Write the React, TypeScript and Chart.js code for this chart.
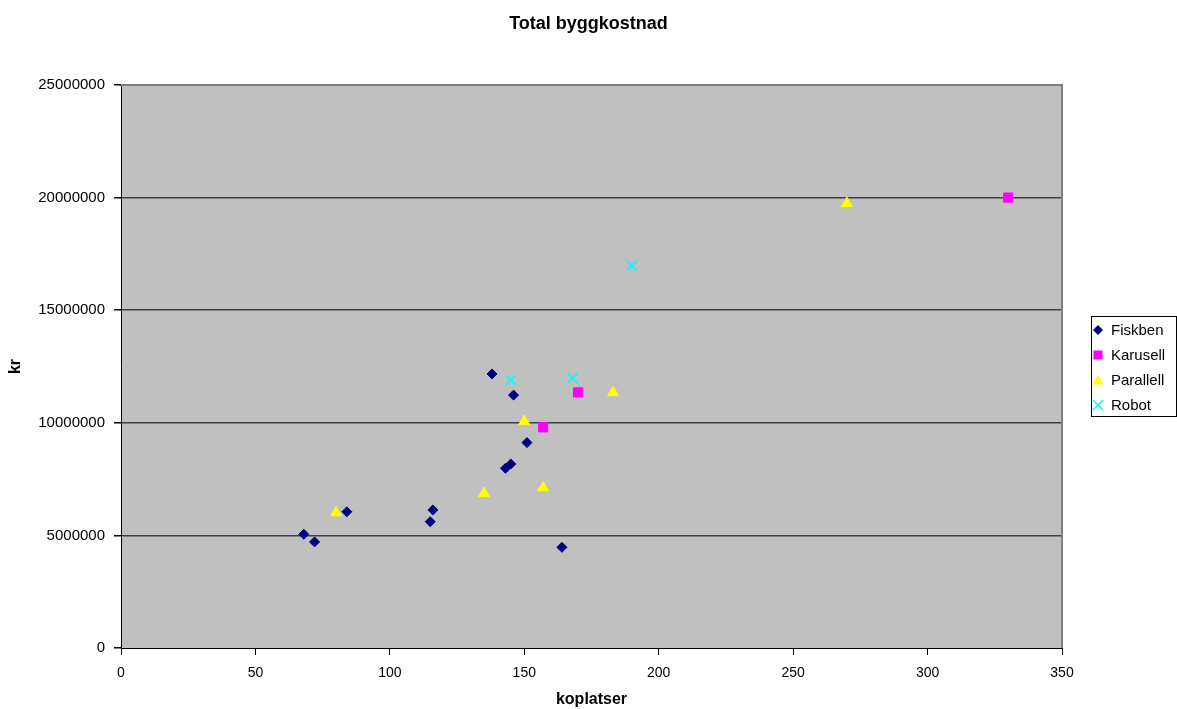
import React, { useEffect, useRef } from "react";
import { Chart, registerables } from "chart.js";

Chart.register(...registerables);

const seriesNames = ["Fiskben", "Karusell", "Parallell", "Robot"];

const fiskbenX = [138, 146, 151, 143, 145, 84, 116, 115, 68, 72, 164];
const fiskbenY = [12170000, 11230000, 9120000, 7980000, 8170000, 6050000, 6130000, 5610000, 5050000, 4710000, 4470000];

const karusellX = [330, 170, 157];
const karusellY = [20000000, 11350000, 9800000];

const parallellX = [270, 183, 150, 135, 157, 80];
const parallellY = [19750000, 11350000, 10070000, 6870000, 7120000, 6010000];

const robotX = [190, 145, 168];
const robotY = [16980000, 11900000, 11980000];

const xTicks = [0, 50, 100, 150, 200, 250, 300, 350];
const yTicks = [0, 5000000, 10000000, 15000000, 20000000, 25000000];

const FONT = "'Liberation Sans', Arial, sans-serif";

const pts = (xs: number[], ys: number[]) => xs.map((x, i) => ({ x, y: ys[i] }));

const plotPlugin = {
  id: "plotDecor",
  beforeDraw(chart: any) {
    const { ctx, chartArea: a } = chart;
    ctx.save();
    ctx.fillStyle = "#c0c0c0";
    ctx.fillRect(a.left, a.top, a.right - a.left, a.bottom - a.top);
    ctx.restore();
  },
  beforeDatasetsDraw(chart: any) {
    const { ctx, chartArea: a } = chart;
    ctx.save();
    ctx.strokeStyle = "#808080";
    ctx.lineWidth = 2;
    ctx.beginPath();
    ctx.moveTo(a.left, a.top);
    ctx.lineTo(a.right, a.top);
    ctx.lineTo(a.right, a.bottom);
    ctx.stroke();
    ctx.restore();
  },
  afterDraw(chart: any) {
    const { ctx } = chart;
    ctx.save();
    ctx.strokeStyle = "#000";
    ctx.lineWidth = 1;
    ctx.strokeRect(1091.5, 316.5, 85, 100);
    ctx.font = `15px ${FONT}`;
    ctx.textBaseline = "middle";
    ctx.textAlign = "left";
    chart.data.datasets.forEach((ds: any, i: number) => {
      const cy = 330 + i * 25;
      const cx = 1098;
      ctx.fillStyle = ds.backgroundColor;
      ctx.strokeStyle = ds.borderColor;
      ctx.beginPath();
      if (ds.pointStyle === "rectRot") {
        ctx.moveTo(cx, cy - 5);
        ctx.lineTo(cx + 5, cy);
        ctx.lineTo(cx, cy + 5);
        ctx.lineTo(cx - 5, cy);
        ctx.closePath();
        ctx.fill();
      } else if (ds.pointStyle === "rect") {
        ctx.fillRect(cx - 4.5, cy - 4.5, 9, 9);
      } else if (ds.pointStyle === "triangle") {
        ctx.moveTo(cx, cy - 5);
        ctx.lineTo(cx + 5.5, cy + 4.5);
        ctx.lineTo(cx - 5.5, cy + 4.5);
        ctx.closePath();
        ctx.fill();
      } else {
        ctx.lineWidth = 1.5;
        ctx.moveTo(cx - 5, cy - 5);
        ctx.lineTo(cx + 5, cy + 5);
        ctx.moveTo(cx + 5, cy - 5);
        ctx.lineTo(cx - 5, cy + 5);
        ctx.stroke();
      }
      ctx.fillStyle = "#000";
      ctx.fillText(ds.label, 1111, cy + 1);
    });
    ctx.restore();
  },
};

export default function App() {
  const ref = useRef<HTMLCanvasElement | null>(null);

  useEffect(() => {
    if (!ref.current) return;
    const chart = new Chart(ref.current, {
      type: "scatter",
      data: {
        datasets: [
          {
            label: seriesNames[0],
            data: pts(fiskbenX, fiskbenY),
            pointStyle: "rectRot",
            pointRadius: 5,
            backgroundColor: "#000080",
            borderColor: "#000080",
            borderWidth: 1,
          },
          {
            label: seriesNames[1],
            data: pts(karusellX, karusellY),
            pointStyle: "rect",
            pointRadius: 6.5,
            backgroundColor: "#ff00ff",
            borderColor: "#ff00ff",
            borderWidth: 1,
          },
          {
            label: seriesNames[2],
            data: pts(parallellX, parallellY),
            pointStyle: "triangle",
            pointRadius: 6.3,
            backgroundColor: "#ffff00",
            borderColor: "#ffff00",
            borderWidth: 1,
          },
          {
            label: seriesNames[3],
            data: pts(robotX, robotY),
            pointStyle: "crossRot",
            pointRadius: 7,
            backgroundColor: "#00ffff",
            borderColor: "#00ffff",
            borderWidth: 1.8,
          },
        ],
      },
      options: {
        responsive: false,
        animation: false,
        devicePixelRatio: 1,
        layout: { padding: { left: 0, right: 0, top: 0, bottom: 0 } },
        plugins: {
          legend: { display: false },
          tooltip: { enabled: false },
          title: {
            display: true,
            text: "Total byggkostnad",
            color: "#000",
            font: { family: FONT, size: 18, weight: "bold" },
            padding: { top: 13, bottom: 50.4 },
          },
        },
        scales: {
          x: {
            type: "linear",
            min: 0,
            max: 350,
            afterBuildTicks: (s: any) => {
              s.ticks = xTicks.map((v) => ({ value: v }));
            },
            afterFit: (s: any) => {
              s.height = 61;
            },
            ticks: {
              color: "#000",
              font: { family: FONT, size: 14 },
              padding: 10,
              maxRotation: 0,
            },
            grid: {
              drawOnChartArea: false,
              tickColor: "#000",
              tickLength: 7,
            },
            border: { color: "#000", width: 1 },
            title: {
              display: true,
              text: "koplatser",
              color: "#000",
              font: { family: FONT, size: 16, weight: "bold" },
              padding: { top: 0, bottom: 0 },
            },
          },
          y: {
            type: "linear",
            min: 0,
            max: 25000000,
            afterBuildTicks: (s: any) => {
              s.ticks = yTicks.map((v) => ({ value: v }));
            },
            afterFit: (s: any) => {
              s.width = 121;
            },
            ticks: {
              color: "#000",
              font: { family: FONT, size: 15 },
              padding: 9,
              callback: (v: any) => String(v),
            },
            grid: {
              color: (c: any) =>
                c.tick && (c.tick.value === 0 || c.tick.value === 25000000) ? "rgba(0,0,0,0)" : "#404040",
              lineWidth: 1.5,
              tickColor: "#000",
              tickLength: 7,
            },
            border: { color: "#000", width: 1 },
            title: {
              display: true,
              text: "kr",
              color: "#000",
              font: { family: FONT, size: 16, weight: "bold" },
              padding: { top: 6, bottom: 0 },
            },
          },
          legendSpace: {
            type: "linear",
            position: "right",
            display: true,
            min: 0,
            max: 1,
            afterFit: (s: any) => {
              s.width = 115;
            },
            ticks: { display: false },
            grid: { display: false, drawTicks: false },
            border: { display: false },
          },
        },
      },
      plugins: [plotPlugin],
    } as any);
    return () => chart.destroy();
  }, []);

  return (
    <div style={{ position: "absolute", left: 0, top: 0, width: 1177, height: 709, background: "#fff" }}>
      <canvas ref={ref} width={1177} height={709} style={{ display: "block", width: 1177, height: 709 }} />
    </div>
  );
}
